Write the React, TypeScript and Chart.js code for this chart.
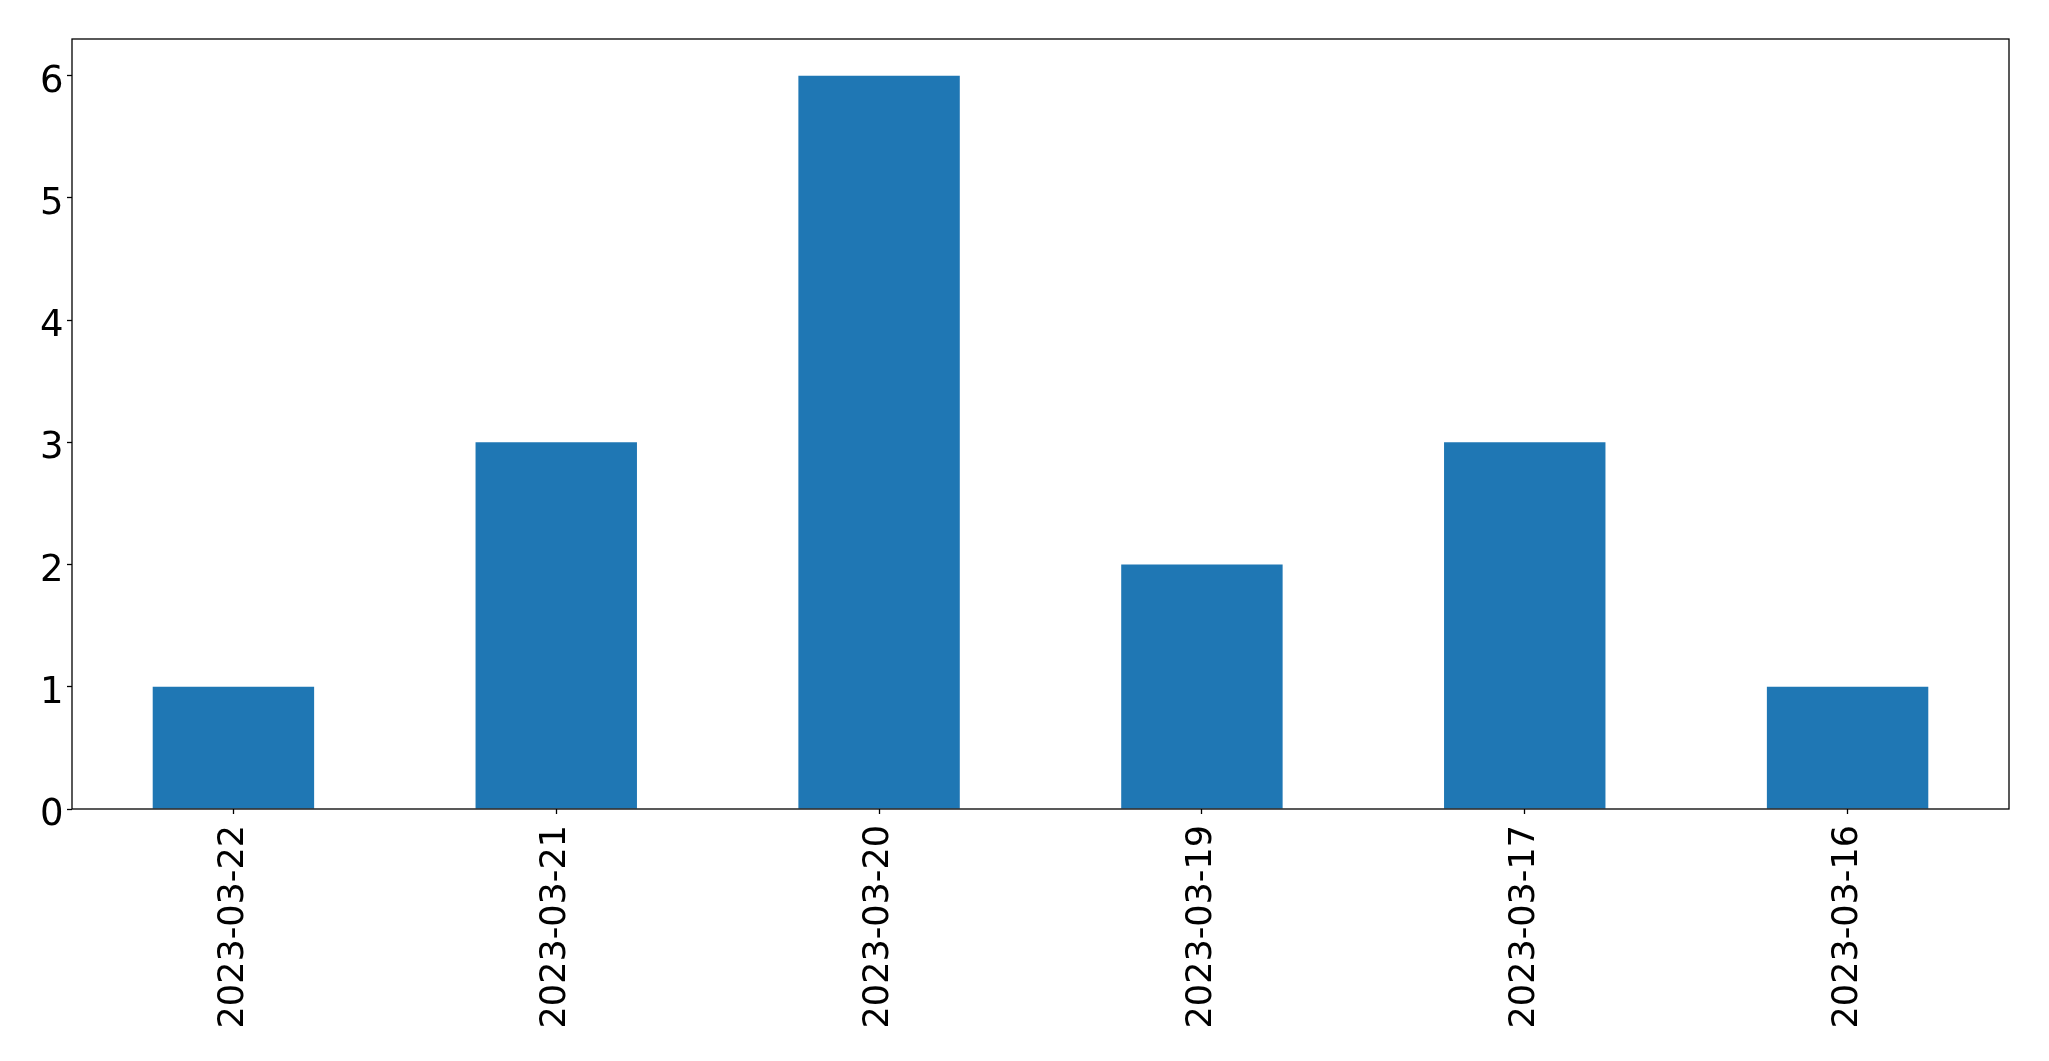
import React, { useEffect, useRef } from "react";
import { Chart, registerables } from "chart.js";

Chart.register(...registerables);

const categories = ["2023-03-22", "2023-03-21", "2023-03-20", "2023-03-19", "2023-03-17", "2023-03-16"];
const values = [1, 3, 6, 2, 3, 1];
const yMin = 0;
const yMax = 6.3;
const yStep = 1;

const W = 2049;
const H = 1061;
const PLOT_LEFT = 72;
const PLOT_TOP = 39;
const PLOT_RIGHT = 2009;
const PLOT_BOTTOM = 809;
const Y_FONT = 37;

const frame = {
  id: "frame",
  afterDatasetsDraw(chart: any) {
    const { ctx, chartArea } = chart;
    ctx.save();
    ctx.strokeStyle = "#000";
    ctx.lineWidth = 1.3;
    ctx.strokeRect(chartArea.left, chartArea.top, chartArea.right - chartArea.left, chartArea.bottom - chartArea.top);
    ctx.restore();
  },
};

// y tick labels drawn matplotlib-style (centre-baseline alignment)
const yLabels = {
  id: "yLabels",
  afterDraw(chart: any) {
    const { ctx } = chart;
    const scale = chart.scales.y;
    ctx.save();
    ctx.fillStyle = "#000";
    ctx.font = `${Y_FONT}px "DejaVu Sans"`;
    ctx.textAlign = "right";
    ctx.textBaseline = "alphabetic";
    for (const t of scale.ticks) {
      const y = scale.getPixelForValue(t.value);
      ctx.fillText(String(t.value), scale.right - 8.5, y + 0.365 * Y_FONT + 2.5);
    }
    ctx.restore();
  },
};

export default function App() {
  const ref = useRef<HTMLCanvasElement>(null);
  useEffect(() => {
    document.body.style.margin = "0";
    const chart = new Chart(ref.current!, {
      type: "bar",
      data: {
        labels: categories,
        datasets: [
          {
            data: values,
            backgroundColor: "#1f77b4",
            borderWidth: 0,
            barPercentage: 0.5,
            categoryPercentage: 1,
          },
        ],
      },
      options: {
        responsive: false,
        animation: false,
        devicePixelRatio: 1,
        layout: { padding: { top: PLOT_TOP, right: W - PLOT_RIGHT, left: 0, bottom: 0 } },
        plugins: { legend: { display: false }, tooltip: { enabled: false } },
        scales: {
          x: {
            offset: true,
            grid: { display: true, offset: false, drawOnChartArea: false, drawTicks: true, tickLength: 5, color: "#000", tickWidth: 1.3 },
            border: { display: false },
            ticks: {
              autoSkip: false,
              minRotation: 90,
              maxRotation: 90,
              padding: 11,
              color: "#000",
              font: { family: "DejaVu Sans", size: 35 },
            },
            afterFit(scale: any) {
              scale.height = H - PLOT_BOTTOM;
            },
          },
          y: {
            min: yMin,
            max: yMax,
            grid: { display: true, drawOnChartArea: false, drawTicks: true, tickLength: 5, color: "#000", tickWidth: 1.3 },
            border: { display: false },
            ticks: {
              display: false,
              stepSize: yStep,
              includeBounds: false,
            },
            afterFit(scale: any) {
              scale.width = PLOT_LEFT;
            },
          },
        },
      },
      plugins: [frame, yLabels],
    });
    return () => chart.destroy();
  }, []);
  return (
    <div style={{ position: "fixed", left: 0, top: 0, width: W, height: H, background: "#fff" }}>
      <canvas ref={ref} width={W} height={H} style={{ display: "block" }} />
    </div>
  );
}
